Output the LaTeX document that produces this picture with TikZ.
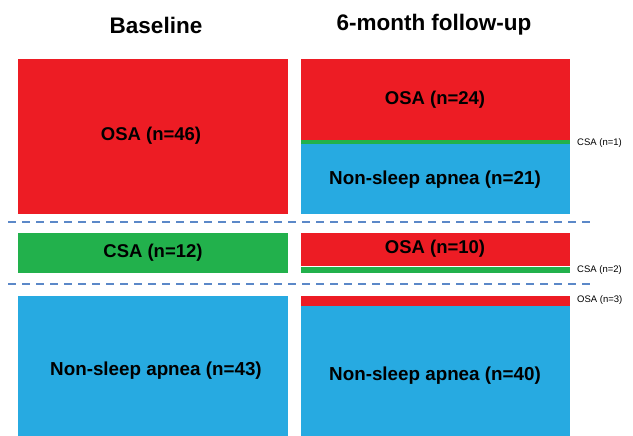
\documentclass[tikz,border=0pt]{standalone}
\usepackage{fontspec}
\setmainfont{Liberation Sans}
\definecolor{osared}{HTML}{ED1C24}
\definecolor{csagreen}{HTML}{22B14C}
\definecolor{nsablue}{HTML}{27AAE1}
\definecolor{dashblue}{HTML}{5B88C8}
\begin{document}
\begin{tikzpicture}[x=1pt,y=-1pt,
  title/.style={font=\fontsize{22.5}{24}\selectfont\bfseries},
  boxlabel/.style={font=\fontsize{18.5}{20}\selectfont\bfseries},
  nsalabel/.style={font=\fontsize{18.8}{21}\selectfont\bfseries},
  sidelabel/.style={font=\fontsize{9.5}{11}\selectfont, anchor=west, inner sep=0pt},
  sep/.style={draw=dashblue, line width=1.6pt, dash pattern=on 8pt off 6pt}]
\useasboundingbox (0,0) rectangle (633,436);
% titles
\node[title] (t1) at (156,25) {Baseline};
\node[title] (t2) at (434,25) {6-month follow-up};
% top row
\fill[osared] (18,59) rectangle (288,214);
\fill[osared] (301,59) rectangle (570,140);
\fill[csagreen] (301,140) rectangle (570,144);
\fill[nsablue] (301,144) rectangle (570,214);
\node[boxlabel] (a1) at (151,136) {OSA (n=46)};
\node[boxlabel] (b1) at (435,100) {OSA (n=24)};
\node[nsalabel] (b2) at (435,180) {Non-sleep apnea (n=21)};
\node[sidelabel] (s1) at (577,143) {CSA (n=1)};
% separator 1
\coordinate (d1a) at (8,222);
\coordinate (d1b) at (590,222);
\draw[sep] (d1a) -- (d1b);
% middle row
\fill[csagreen] (18,233) rectangle (288,273);
\fill[osared] (301,233) rectangle (570,265.5);
\fill[csagreen] (301,267) rectangle (570,273);
\node[boxlabel] (a2) at (153,253) {CSA (n=12)};
\node[boxlabel] (b3) at (435,249) {OSA (n=10)};
\node[sidelabel] (s2) at (577,270) {CSA (n=2)};
% separator 2
\coordinate (d2a) at (8,284);
\coordinate (d2b) at (590,284);
\draw[sep] (d2a) -- (d2b);
% bottom row
\fill[nsablue] (18,296) rectangle (288,436);
\fill[osared] (301,296) rectangle (570,305.5);
\fill[nsablue] (301,305.5) rectangle (570,436);
\node[nsalabel] (a3) at (156,371) {Non-sleep apnea (n=43)};
\node[nsalabel] (b4) at (435,376) {Non-sleep apnea (n=40)};
\node[sidelabel] (s3) at (577,300) {OSA (n=3)};
\end{tikzpicture}
\end{document}
